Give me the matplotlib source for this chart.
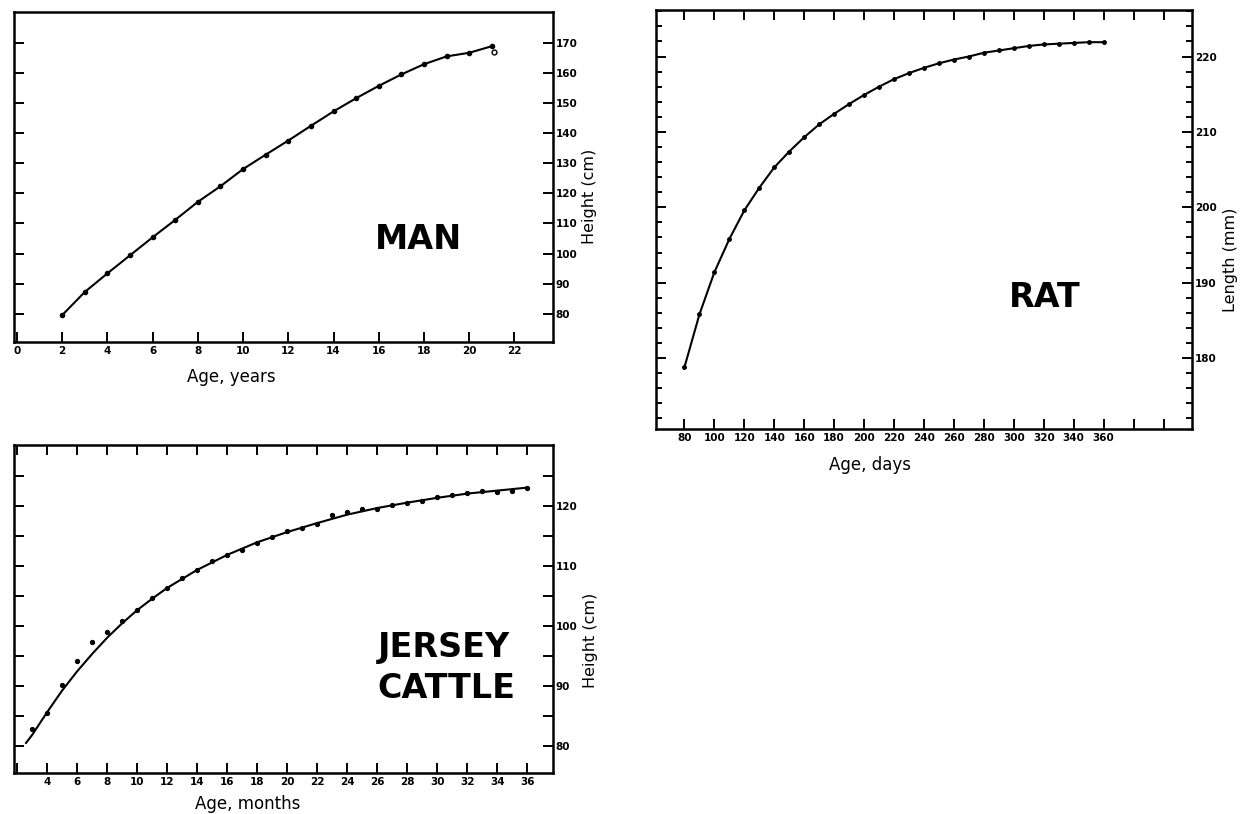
import matplotlib
matplotlib.use("Agg")
import matplotlib.pyplot as plt
from matplotlib.ticker import MultipleLocator

# growth data: man (height, cm), rat (body length, mm), jersey cattle (height, cm)
man_age = [2, 3, 4, 5, 6, 7, 8, 9, 10, 11, 12, 13, 14, 15, 16, 17, 18, 19, 20, 21]
man_height = [79.5, 87.2, 93.4, 99.4, 105.4, 111.2, 117.2, 122.4, 128.1, 132.9,
              137.6, 142.5, 147.3, 151.7, 155.8, 159.6, 163.0, 165.6, 166.8, 169.0]
man_last_age = [21.1]
man_last_height = [167.0]

rat_age = [80, 90, 100, 110, 120, 130, 140, 150, 160, 170, 180, 190, 200, 210,
           220, 230, 240, 250, 260, 270, 280, 290, 300, 310, 320, 330, 340, 350, 360]
rat_length = [178.8, 185.8, 191.4, 195.8, 199.6, 202.6, 205.3, 207.4, 209.3, 211.0,
              212.4, 213.7, 214.9, 216.0, 217.0, 217.8, 218.5, 219.1, 219.6, 220.0,
              220.5, 220.8, 221.1, 221.4, 221.6, 221.7, 221.8, 221.9, 221.9]

cattle_age = [3, 4, 5, 6, 7, 8, 9, 10, 11, 12, 13, 14, 15, 16, 17, 18, 19, 20, 21,
              22, 23, 24, 25, 26, 27, 28, 29, 30, 31, 32, 33, 34, 35, 36]
cattle_height = [82.9, 85.4, 90.1, 94.2, 97.3, 98.9, 100.8, 102.7, 104.6, 106.3,
                 107.9, 109.3, 110.7, 111.8, 112.6, 113.7, 114.8, 115.7, 116.3, 117.0,
                 118.4, 119.0, 119.4, 119.5, 120.1, 120.4, 120.8, 121.5, 121.8, 122.1,
                 122.5, 122.3, 122.5, 123.0]
# fitted curve for cattle
fit_age = [2.6, 3, 4, 5, 6, 7, 8, 9, 10, 11, 12, 14, 16, 18, 20, 22, 24, 26, 28,
           30, 32, 34, 36]
fit_height = [80.5, 81.8, 85.6, 89.2, 92.4, 95.3, 98.0, 100.4, 102.6, 104.5, 106.3,
              109.3, 111.8, 113.9, 115.6, 117.1, 118.5, 119.6, 120.5, 121.3, 122.0,
              122.5, 123.0]

fig = plt.figure(figsize=(12.51, 8.14), dpi=100)
fig.patch.set_facecolor("white")


def style(ax):
    for s in ax.spines.values():
        s.set_linewidth(1.8)
    ax.tick_params(which="both", direction="in", width=1.4, left=True, right=True,
                   labelleft=False, labelright=True, pad=3)
    ax.tick_params(which="major", length=7)
    ax.tick_params(which="minor", length=4.5)
    for lab in ax.get_xticklabels() + ax.get_yticklabels():
        lab.set_fontsize(7.5)
        lab.set_fontweight("bold")
    ax.tick_params(axis="y", pad=2)


# ---- MAN ----
ax1 = fig.add_axes([0.0112, 0.580, 0.4308, 0.405])
ax1.plot(man_age, man_height, color="black", lw=1.5, marker="o", ms=3)
ax1.plot(man_last_age, man_last_height, ls="none", marker="o", ms=3.5,
         mfc="white", mec="black", mew=1)
ax1.set_xlim(-0.13, 23.7)
ax1.set_ylim(70.6, 180.3)
ax1.set_xticks(range(0, 24, 2))
ax1.set_yticks(range(80, 180, 10))
style(ax1)
ax1.set_xlabel("Age, years", fontsize=12)
ax1.xaxis.set_label_coords(0.404, -0.078)
ax1.set_ylabel("Height (cm)", fontsize=11.5)
ax1.yaxis.set_label_position("right")
ax1.yaxis.set_label_coords(1.054, 0.442)
ax1.text(0.75, 0.31, "MAN", transform=ax1.transAxes, fontsize=24,
         fontweight="bold", ha="center", va="center")

# ---- RAT ----
ax2 = fig.add_axes([0.5244, 0.473, 0.4284, 0.515])
ax2.plot(rat_age, rat_length, color="black", lw=1.5, marker="o", ms=2.5)
ax2.set_xlim(61, 419)
ax2.set_ylim(170.6, 226.2)
ax2.set_xticks(range(80, 420, 20))
ax2.set_xticklabels([str(v) if v <= 360 else "" for v in range(80, 420, 20)])
ax2.set_yticks(range(180, 230, 10))
ax2.yaxis.set_minor_locator(MultipleLocator(2))
style(ax2)
ax2.tick_params(top=True)
ax2.set_xlabel("Age, days", fontsize=12)
ax2.xaxis.set_label_coords(0.40, -0.064)
ax2.set_ylabel("Length (mm)", fontsize=11.5)
ax2.yaxis.set_label_position("right")
ax2.yaxis.set_label_coords(1.058, 0.403)
ax2.text(0.726, 0.314, "RAT", transform=ax2.transAxes, fontsize=24,
         fontweight="bold", ha="center", va="center")

# ---- JERSEY CATTLE ----
ax3 = fig.add_axes([0.0112, 0.0504, 0.4308, 0.403])
ax3.plot(fit_age, fit_height, color="black", lw=1.5)
ax3.plot(cattle_age, cattle_height, ls="none", marker="o", ms=2.8, color="black")
ax3.set_xlim(1.8, 37.7)
ax3.set_ylim(75.5, 130.1)
ax3.set_xticks(range(2, 38, 2))
ax3.set_xticklabels([""] + [str(v) for v in range(4, 38, 2)])
ax3.set_yticks(range(80, 130, 5))
ax3.set_yticklabels([str(v) if v % 10 == 0 else "" for v in range(80, 130, 5)])
style(ax3)
ax3.tick_params(top=True)
ax3.set_xlabel("Age, months", fontsize=12)
ax3.xaxis.set_label_coords(0.434, -0.066)
ax3.set_ylabel("Height (cm)", fontsize=11.5)
ax3.yaxis.set_label_position("right")
ax3.yaxis.set_label_coords(1.056, 0.405)
ax3.text(0.675, 0.32, "JERSEY\nCATTLE", transform=ax3.transAxes, fontsize=24,
         fontweight="bold", ha="left", va="center", linespacing=1.3)

fig.savefig("out.png", dpi=100)
